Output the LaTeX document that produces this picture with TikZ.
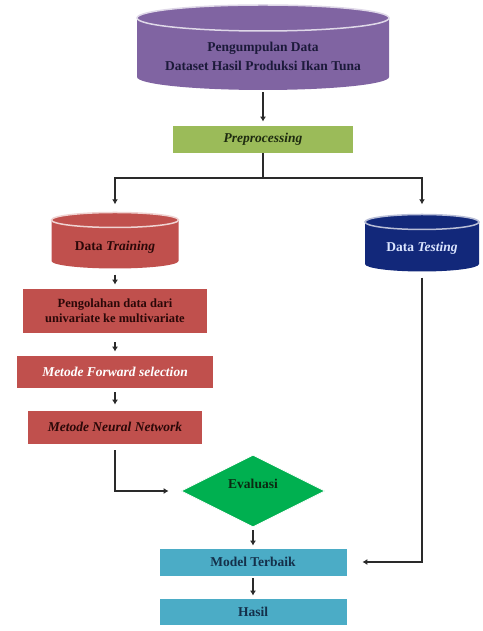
\documentclass[tikz,border=0pt]{standalone}
\usepackage{fontspec}
\setmainfont{Liberation Serif}
\usetikzlibrary{shapes.geometric,arrows.meta,calc}
\definecolor{cpurple}{HTML}{8064A2}
\definecolor{cgreen}{HTML}{9BBB59}
\definecolor{cred}{HTML}{C0504D}
\definecolor{cnavy}{RGB}{18,40,122}
\definecolor{cdgreen}{HTML}{00B050}
\definecolor{caqua}{HTML}{4BACC6}
\definecolor{tpurple}{HTML}{1C1A3A}
\definecolor{tgreen}{HTML}{1E2B10}
\definecolor{tred}{HTML}{2B0808}
\definecolor{tdgreen}{HTML}{0B2A12}
\definecolor{taqua}{HTML}{14304A}
\definecolor{tnavy}{HTML}{DCE6FF}
\definecolor{lnc}{HTML}{2A2A2A}
\begin{document}
\begin{tikzpicture}[x=1pt,y=1pt,
  txt/.style={font=\fontsize{13.5}{16}\selectfont\bfseries, align=center, inner sep=0pt},
  frame/.style={rectangle, inner sep=0pt, draw=none},
  boxn/.style={rectangle, inner sep=0pt, draw=white, line width=0.8pt,
    font=\fontsize{13.5}{16}\selectfont\bfseries, align=center},
  ln/.style={draw=lnc, line width=2.2pt},
  arr/.style={draw=lnc, line width=2.2pt, -{Latex[length=5pt,width=6pt]}},
  rimP/.style={draw=cpurple!25!white, line width=1.5pt},
  rimR/.style={draw=cred!25!white, line width=1.5pt},
  rimN/.style={draw=cnavy!30!white, line width=1.5pt}]
\useasboundingbox (0,0) rectangle (482,631);

% ---- purple cylinder
\fill[cpurple] (137,613) -- (137,554) arc[start angle=180,end angle=360,x radius=126,y radius=13]
  -- (389,613) arc[start angle=0,end angle=180,x radius=126,y radius=13] -- cycle;
\draw[rimP] (263,613) ellipse[x radius=126,y radius=13];
\node[frame, minimum width=252, minimum height=85] (pd) at (263,583.5) {};
\node[txt, text=tpurple, font=\fontsize{13.5}{19}\selectfont\bfseries] (pdt) at (263,574.5)
  {Pengumpulan Data\\Dataset Hasil Produksi Ikan Tuna};

% ---- preprocessing
\node[boxn, fill=cgreen, text=tgreen, minimum width=181, minimum height=28] (pre) at (263,492)
  {\textit{Preprocessing}};

% ---- left cylinder (Data Training)
\fill[cred] (51.5,411) -- (51.5,370) arc[start angle=180,end angle=360,x radius=63.5,y radius=7.5]
  -- (178.5,411) arc[start angle=0,end angle=180,x radius=63.5,y radius=7.5] -- cycle;
\draw[rimR] (115,411) ellipse[x radius=63.5,y radius=7.5];
\node[frame, minimum width=127, minimum height=56] (dtr) at (115,390.5) {};
\node[txt, text=tred] (dtrt) at (115,384) {Data \textit{Training}};

% ---- right cylinder (Data Testing)
\fill[cnavy] (365,409) -- (365,367) arc[start angle=180,end angle=360,x radius=57,y radius=7.5]
  -- (479,409) arc[start angle=0,end angle=180,x radius=57,y radius=7.5] -- cycle;
\draw[rimN] (422,409) ellipse[x radius=57,y radius=7.5];
\node[frame, minimum width=114, minimum height=57] (dte) at (422,388) {};
\node[txt, text=tnavy] (dtet) at (422,383) {Data \textit{Testing}};

% ---- left column boxes
\node[boxn, fill=cred, text=tred, minimum width=185, minimum height=45,
  font=\fontsize{12.5}{14.5}\selectfont\bfseries] (pg) at (115,320.5)
  {Pengolahan data dari\\univariate ke multivariate};
\node[boxn, fill=cred, text=white, minimum width=197, minimum height=33] (fs) at (115,259.5)
  {\textit{Metode Forward selection}};
\node[boxn, fill=cred, text=tred, minimum width=175, minimum height=34] (nn) at (115,204)
  {\textit{Metode Neural Network}};

% ---- evaluation diamond
\node[diamond, aspect=2, inner sep=0pt, minimum width=144, minimum height=72,
  fill=cdgreen, draw=white, line width=0.8pt] (ev) at (253,140) {};
\node[txt, text=tdgreen] (evt) at (253,147) {Evaluasi};

% ---- bottom boxes
\node[boxn, fill=caqua, text=taqua, minimum width=188, minimum height=28] (mt) at (253,69) {Model Terbaik};
\node[boxn, fill=caqua, text=taqua, minimum width=188, minimum height=27] (hs) at (253,19.5) {Hasil};

% ---- connectors
\coordinate (br) at (263,453);
\draw[arr, shorten <=2pt, shorten >=3pt] (pd.south) -- (pre.north);
\draw[ln] (pre.south) -- (br);
\draw[arr, shorten >=8pt] (br) -| (dtr.north);
\draw[arr, shorten >=10pt] (br) -| (dte.north);
\draw[arr, shorten <=6pt, shorten >=3pt] (dtr.south) -- (pg.north);
\draw[arr, shorten <=9pt, shorten >=3pt] (pg.south) -- (fs.north);
\draw[arr, shorten <=4pt, shorten >=5pt] (fs.south) -- (nn.north);
\draw[arr, shorten <=6pt, shorten >=12pt] (nn.south) |- (ev.west);
\draw[arr, shorten <=3pt, shorten >=2pt] (ev.south) -- (mt.north);
\draw[arr, shorten <=2pt, shorten >=2pt] (mt.south) -- (hs.north);
\draw[arr, shorten <=6pt, shorten >=15pt] (dte.south) |- (mt.east);
\end{tikzpicture}
\end{document}
